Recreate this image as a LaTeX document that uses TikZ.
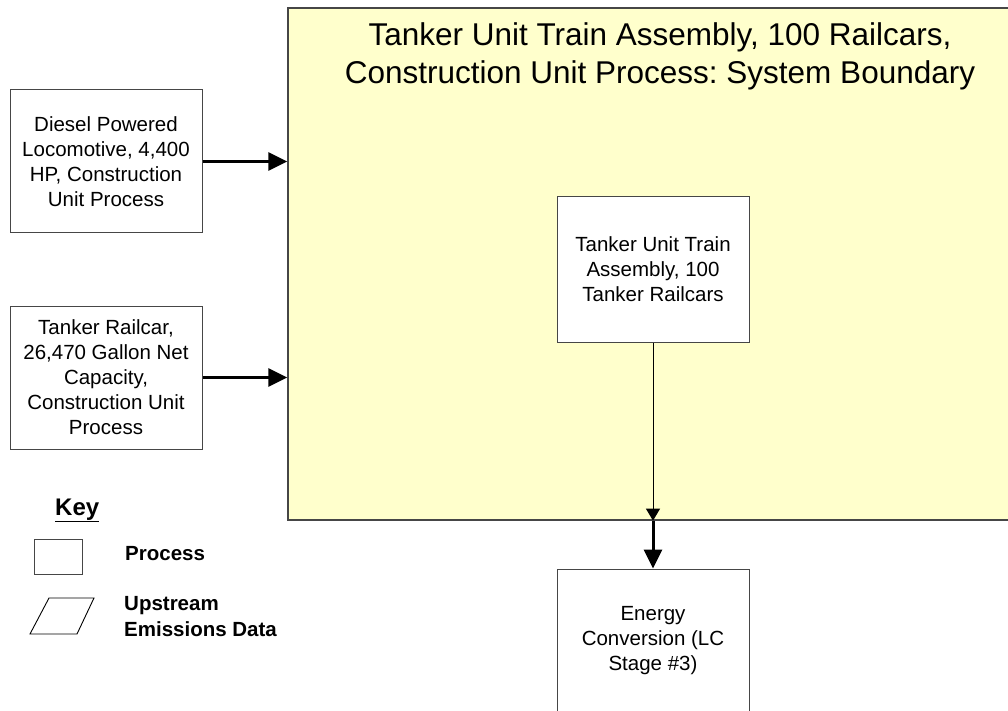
\documentclass[tikz,border=0pt]{standalone}
\usepackage{fontspec}
\setmainfont{Liberation Sans}
\usetikzlibrary{arrows.meta}
\frenchspacing
\definecolor{bndfill}{RGB}{255,255,204}
\definecolor{edgegray}{RGB}{70,70,70}
\tikzset{
  procbox/.style={draw=edgegray, line width=1pt, fill=white, minimum width=192pt, inner sep=0pt, align=center, font=\fontsize{20.5}{25}\selectfont},
  boundbox/.style={draw=edgegray, line width=1.3pt, fill=bndfill, minimum width=732pt, minimum height=512pt, inner sep=0pt},
  thickarrow/.style={line width=3pt, -{Triangle[length=19pt,width=18pt]}},
  thinarrow/.style={line width=1pt, -{Triangle[length=12pt,width=14pt]}},
  keytext/.style={font=\bfseries\fontsize{20.5}{26}\selectfont, inner sep=0pt, align=left}
}
\begin{document}
\begin{tikzpicture}[x=1pt,y=-1pt]
\useasboundingbox (0,0) rectangle (1008,711);
% system boundary
\node[boundbox] (boundary) at (654,264) {};
\node[inner sep=0pt, align=center, font=\fontsize{31.5}{38}\selectfont] (title) at (660,56)
  {Tanker Unit Train Assembly, 100 Railcars,\\Construction Unit Process: System Boundary};
% process boxes
\node[procbox, minimum height=143pt] (diesel) at (106,161.5)
  {Diesel Powered\\Locomotive, 4,400\\HP, Construction\\Unit Process};
\node[procbox, minimum height=143pt] (railcar) at (106,377.5)
  {Tanker Railcar,\\26,470 Gallon Net\\Capacity,\\Construction Unit\\Process};
\node[procbox, minimum height=145pt] (assembly) at (653,269.5)
  {Tanker Unit Train\\Assembly, 100\\Tanker Railcars};
\node[procbox, minimum height=143pt] (energy) at (653,640.5)
  {Energy\\Conversion (LC\\Stage \#3)};
% connectors
\draw[thickarrow] (diesel.east) -- (diesel.east -| boundary.west);
\draw[thickarrow] (railcar.east) -- (railcar.east -| boundary.west);
\coordinate (exitpt) at (assembly.south |- boundary.south);
\draw[thinarrow] (assembly.south) -- (exitpt);
\draw[thickarrow] (exitpt) -- (energy.north);
% key
\node[anchor=base west, inner sep=0pt, font=\bfseries\fontsize{24}{28}\selectfont] (keytitle) at (55,515) {\underline{Key}};
\node[draw=edgegray, line width=1pt, minimum width=48pt, minimum height=35pt, inner sep=0pt] (keyproc) at (58,556.5) {};
\node[keytext, anchor=base west] (keyproclbl) at (125,560) {Process};
\draw[draw=black, line width=0.9pt] (30,634) -- (77,634) -- (94,598) -- (49,598) -- cycle;
\node[keytext, anchor=west] (keyup) at (124,616.5) {Upstream\\Emissions Data};
\end{tikzpicture}
\end{document}
